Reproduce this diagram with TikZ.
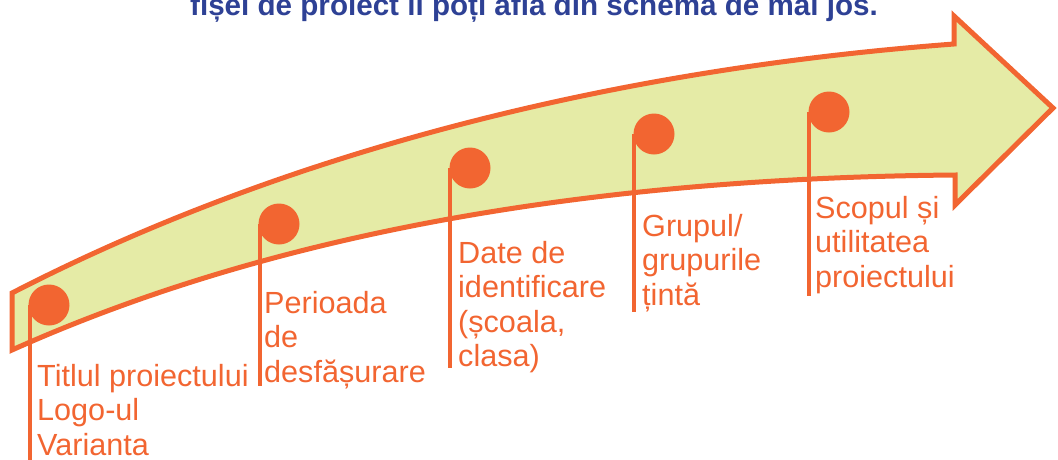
\documentclass[tikz,border=0pt]{standalone}
\usepackage{fontspec}
\setmainfont{Liberation Sans}
\definecolor{arroworange}{RGB}{242,101,49}
\definecolor{arrowfill}{RGB}{229,235,166}
\definecolor{titleblue}{RGB}{46,65,149}

\begin{document}
\begin{tikzpicture}[x=1pt, y=-1pt,
  dot/.style={circle, fill=arroworange, inner sep=0pt, minimum size=41pt},
  stem/.style={draw=arroworange, line width=4pt},
  itemtext/.style={anchor=north west, inner sep=0pt, align=left, text=arroworange,
    font=\fontsize{30.6}{34.5}\selectfont}]
\useasboundingbox (0,0) rectangle (1058,459);
\clip (0,0) rectangle (1058,459);

% heading, cut off at the top
\node[anchor=base west, inner sep=0pt, text=titleblue, font=\fontsize{29.6}{32}\selectfont\bfseries] (intro) at (190,15) {fișei de proiect îl poți afla din schema de mai jos.};

% the big arrow
\draw[draw=arroworange, fill=arrowfill, line width=5pt, line join=miter]
  (12,293) .. controls (260,165) and (580,72) .. (954,44) -- (954,16) -- (1053,108)
  -- (955,205) -- (955,175) .. controls (600,178) and (280,230) .. (12,350) -- cycle;

% dots
\node[dot] (c1) at (49,305) {};
\node[dot] (c2) at (279,224) {};
\node[dot] (c3) at (470,168) {};
\node[dot] (c4) at (654,134) {};
\node[dot] (c5) at (829,112) {};

% stems
\coordinate (e1) at (30,462);
\coordinate (e2) at (260,386);
\coordinate (e3) at (450,368);
\coordinate (e4) at (634,312);
\coordinate (e5) at (809,296);
\draw[stem] (c1.west -| e1) -- (e1);
\draw[stem] (c2.west -| e2) -- (e2);
\draw[stem] (c3.west -| e3) -- (e3);
\draw[stem] (c4.west -| e4) -- (e4);
\draw[stem] (c5.west -| e5) -- (e5);

% texts
\node[itemtext] (t1) at (37,364) {Titlul proiectului\\Logo-ul\\Varianta};
\node[itemtext] (t2) at (264,291) {Perioada\\de\\desfășurare};
\node[itemtext] (t3) at (458,241) {Date de\\identificare\\(școala,\\clasa)};
\node[itemtext] (t4) at (642,214) {Grupul/\\grupurile\\țintă};
\node[itemtext] (t5) at (815,196) {Scopul și\\utilitatea\\proiectului};
\end{tikzpicture}
\end{document}
